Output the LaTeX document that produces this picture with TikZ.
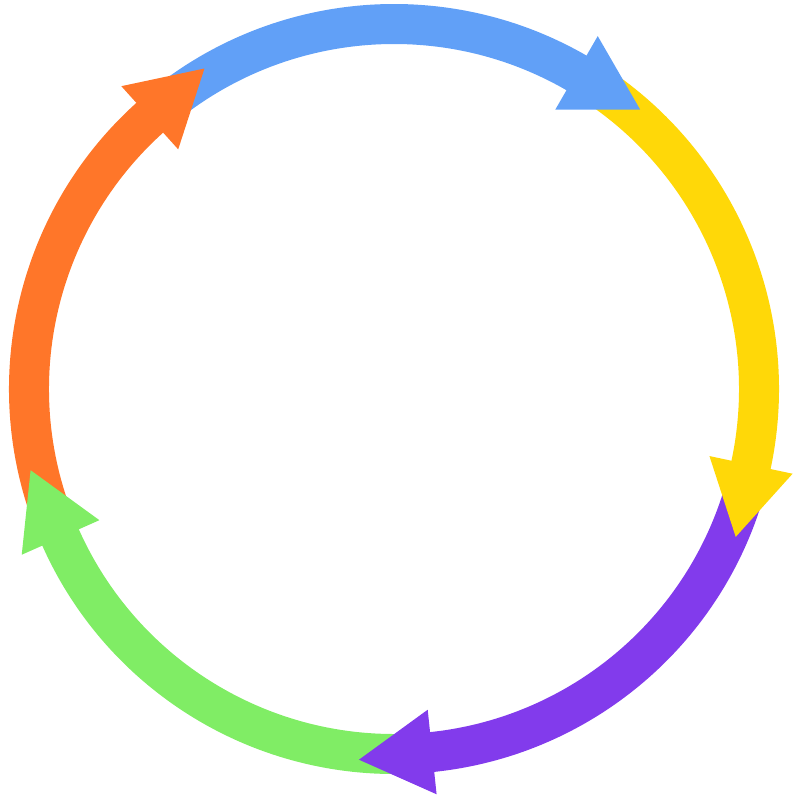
\documentclass[tikz,border=0pt]{standalone}
\definecolor{cycblue}{RGB}{97,160,247}
\definecolor{cycyellow}{RGB}{255,216,8}
\definecolor{cycpurple}{RGB}{130,59,236}
\definecolor{cycgreen}{RGB}{128,237,101}
\definecolor{cycorange}{RGB}{255,118,41}
\begin{document}
\begin{tikzpicture}[x=1pt,y=1pt]
\useasboundingbox (-394,-418) rectangle (403,389);
% shafts
\draw[cycblue, line width=40pt] (130:365) arc (130:59:365);
\draw[cycyellow, line width=40pt] (58:365) arc (58:-13:365);
\draw[cycpurple, line width=40pt] (-14:365) arc (-14:-85:365);
\draw[cycgreen, line width=40pt] (-86:365) arc (-86:-157:365);
\draw[cycorange, line width=40pt] (202:365) arc (202:131:365);
% heads
\fill[cycblue, rotate=60] (322.5,0) -- (407.5,0) -- (365,-73.6) -- cycle;
\fill[cycyellow, rotate=-12] (322.5,0) -- (407.5,0) -- (365,-73.6) -- cycle;
\fill[cycpurple, rotate=-84] (322.5,0) -- (407.5,0) -- (365,-73.6) -- cycle;
\fill[cycgreen, rotate=-156] (322.5,0) -- (407.5,0) -- (365,-73.6) -- cycle;
\fill[cycorange, rotate=132] (322.5,0) -- (407.5,0) -- (365,-73.6) -- cycle;
\end{tikzpicture}
\end{document}
